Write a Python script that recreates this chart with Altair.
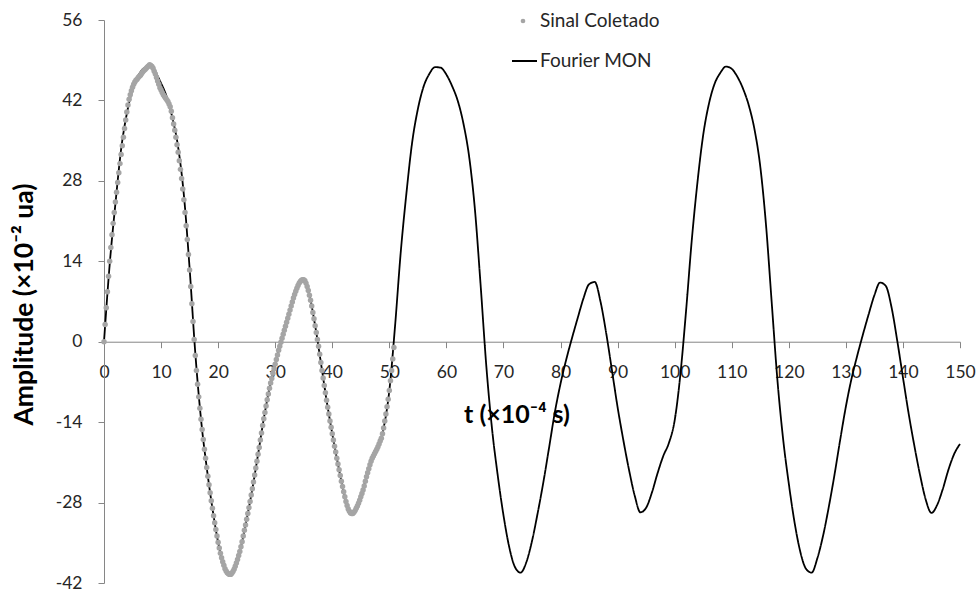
import altair as alt
import pandas as pd

# Collected signal, sampled every 0.2 (x10^-4 s) starting at t = 0
sinal_dt = 0.2
sinal_amp = [
    0.0, 3.0, 5.9, 8.7, 11.4, 14.0, 16.4, 18.6, 20.6, 22.5,
    24.3, 26.0, 27.7, 29.4, 31.0, 32.6, 34.1, 35.6, 37.1, 38.6,
    40.0, 41.2, 42.2, 43.0, 43.7, 44.3, 44.8, 45.2, 45.5, 45.7,
    46.0, 46.2, 46.4, 46.7, 47.0, 47.2, 47.4, 47.6, 47.8, 48.0,
    48.2, 48.1, 47.9, 47.6, 47.1, 46.6, 46.0, 45.4, 44.8, 44.2,
    43.8, 43.4, 43.0, 42.7, 42.4, 42.1, 41.8, 41.4, 40.9, 40.1,
    39.0, 37.9, 36.8, 35.6, 34.3, 33.0, 31.5, 30.0, 28.4, 26.6,
    24.7, 22.5, 20.2, 17.8, 15.2, 12.5, 9.6, 6.6, 3.5, 0.4,
    -2.4, -5.0, -7.4, -9.6, -11.6, -13.5, -15.3, -17.0, -18.7, -20.3,
    -21.9, -23.4, -24.9, -26.3, -27.7, -29.0, -30.3, -31.5, -32.7, -33.8,
    -34.9, -35.9, -36.8, -37.6, -38.3, -38.9, -39.5, -39.9, -40.2, -40.4,
    -40.5, -40.5, -40.3, -40.0, -39.6, -39.1, -38.5, -37.9, -37.2, -36.5,
    -35.7, -34.8, -33.8, -32.8, -31.9, -30.9, -29.9, -28.9, -27.8, -26.7,
    -25.6, -24.4, -23.2, -22.0, -20.8, -19.6, -18.4, -17.1, -15.9, -14.6,
    -13.4, -12.3, -11.2, -10.1, -9.1, -8.1, -7.2, -6.4, -5.5, -4.7,
    -3.9, -3.1, -2.3, -1.5, -0.8, -0.1, 0.6, 1.3, 2.0, 2.7,
    3.4, 4.1, 4.8, 5.5, 6.2, 6.9, 7.6, 8.2, 8.8, 9.3,
    9.8, 10.2, 10.5, 10.7, 10.8, 10.8, 10.6, 10.2, 9.6, 8.9,
    8.1, 7.2, 6.2, 5.1, 4.0, 2.8, 1.6, 0.4, -0.8, -2.2,
    -3.6, -5.0, -6.3, -7.6, -8.9, -10.2, -11.4, -12.6, -13.8, -14.9,
    -16.0, -17.1, -18.2, -19.2, -20.3, -21.3, -22.3, -23.3, -24.3, -25.2,
    -26.1, -27.0, -27.8, -28.5, -29.1, -29.5, -29.8, -29.9, -29.9, -29.7,
    -29.4, -29.0, -28.6, -28.1, -27.6, -27.0, -26.4, -25.8, -25.1, -24.3,
    -23.5, -22.8, -22.1, -21.4, -20.8, -20.3, -19.9, -19.5, -19.1, -18.7,
    -18.3, -17.8, -17.3, -16.8, -16.0, -15.0, -13.8, -12.6, -11.3, -10.0,
    -8.5, -6.8, -5.0, -3.0, -1.0,
]

# Fourier reconstruction (MON), one value per unit of t from 0 to 150
fourier_amp = [
    0.0, 13.5, 24.0, 33.5, 39.7, 43.9, 46.3, 47.6, 47.9, 46.9,
    45.0, 42.6, 38.9, 33.8, 25.5, 12.8, -2.0, -13.5, -21.9, -29.0,
    -34.9, -38.9, -40.5, -39.1, -35.7, -30.9, -25.6, -19.6, -13.4, -8.1,
    -3.9, -0.1, 3.4, 6.9, 9.8, 10.8, 8.1, 2.8, -3.6, -10.2,
    -16.0, -21.3, -26.1, -29.5, -29.4, -27.0, -23.5, -20.3, -18.3, -15.0,
    -8.5, 2.7, 15.6, 25.9, 34.7, 40.5, 44.4, 46.6, 47.8, 47.7,
    46.5, 44.5, 41.9, 37.9, 32.1, 23.0, 9.8, -4.3, -15.2, -23.3,
    -30.2, -35.7, -39.2, -40.2, -38.4, -34.7, -29.8, -24.4, -18.4, -12.3,
    -7.3, -3.1, 0.6, 4.1, 7.5, 10.0, 10.4, 7.0, 1.5, -4.9,
    -11.4, -17.1, -22.3, -26.8, -29.7, -28.9, -26.3, -22.9, -19.9, -17.6,
    -13.7, -5.7, 5.4, 17.7, 27.8, 36.0, 41.4, 44.9, 46.8, 47.9,
    47.5, 46.1, 44.0, 41.1, 36.9, 30.5, 20.4, 6.9, -6.6, -16.9,
    -24.7, -31.4, -36.5, -39.5, -40.2, -37.7, -33.8, -28.8, -23.2, -17.1,
    -11.3, -6.4, -2.4, 1.3, 4.8, 8.1, 10.3, 9.7, 6.0, 0.2,
    -6.2, -12.5, -18.1, -23.2, -27.5, -29.8, -28.4, -25.6, -22.2, -19.5,
    -17.8,
]

series_names = ["Sinal Coletado", "Fourier MON"]
x_ticks = list(range(0, 151, 10))
y_ticks = [-42, -28, -14, 0, 14, 28, 42, 56]

sinal = pd.DataFrame({
    "t": [round(i * sinal_dt, 1) for i in range(len(sinal_amp))],
    "amp": sinal_amp,
    "serie": series_names[0],
})
fourier = pd.DataFrame({
    "t": list(range(len(fourier_amp))),
    "amp": fourier_amp,
    "serie": series_names[1],
})

W, H = 856, 563
AXIS_GRAY = "#868686"
TEXT = "#262626"
FONT = "Lato"

x_scale = alt.Scale(domain=[0, 150], nice=False, zero=False)
y_scale = alt.Scale(domain=[y_ticks[0], y_ticks[-1]], nice=False, zero=False)

# horizontal axis crosses the vertical one at amplitude 0
x_offset = -H * (0 - y_ticks[0]) / (y_ticks[-1] - y_ticks[0])

x_axis = alt.Axis(
    values=x_ticks, offset=x_offset, grid=False,
    domainColor=AXIS_GRAY, tickColor=AXIS_GRAY, tickSize=6,
    labelFont=FONT, labelFontSize=17.5, labelColor=TEXT, labelPadding=16,
    labelFlush=False, labelOverlap=False,
    title="t (×10⁻⁴ s)", titleFont=FONT, titleFontSize=25, titleFontWeight="bold",
    titleColor="#000000", titleX=412.5, titleY=73, titleAlign="center",
    titleBaseline="middle",
)
y_axis = alt.Axis(
    values=y_ticks, grid=False,
    domainColor=AXIS_GRAY, tickColor=AXIS_GRAY, tickSize=6,
    labelFont=FONT, labelFontSize=17.5, labelColor=TEXT, labelPadding=16,
    labelExpr="'' + datum.value", labelOverlap=False,
    title="Amplitude (×10⁻² ua)", titleFont=FONT, titleFontSize=26.5,
    titleFontWeight="bold", titleColor="#000000", titleAngle=270,
    titleX=-72, titleY=284, titleAlign="center", titleBaseline="alphabetic",
)

x_enc = alt.X("t:Q", scale=x_scale, axis=x_axis)
y_enc = alt.Y("amp:Q", scale=y_scale, axis=y_axis)

line = alt.Chart(fourier).mark_line(
    color="#000000", strokeWidth=1.8, interpolate="monotone"
).encode(
    x=x_enc,
    y=y_enc,
    strokeDash=alt.StrokeDash(
        "serie:N",
        scale=alt.Scale(domain=[series_names[1]], range=[[1, 0]]),
        legend=alt.Legend(
            title=None, orient="none", legendX=407, legendY=27.5, padding=0,
            symbolType="stroke", symbolSize=625, symbolStrokeWidth=2,
            symbolStrokeColor="#000000", labelFont=FONT, labelFontSize=19,
            labelColor=TEXT, labelOffset=2,
        ),
    ),
)

points = alt.Chart(sinal).mark_circle(size=30, opacity=1).encode(
    x=x_enc,
    y=y_enc,
    color=alt.Color(
        "serie:N",
        scale=alt.Scale(domain=[series_names[0]], range=["#a5a5a5"]),
        legend=alt.Legend(
            title=None, orient="none", legendX=409.5, legendY=-8.5, padding=0,
            symbolType="circle", symbolSize=22, symbolStrokeWidth=0,
            labelFont=FONT, labelFontSize=19, labelColor=TEXT, labelOffset=7.5,
        ),
    ),
)

chart = (
    alt.layer(line, points)
    .resolve_legend(color="independent", strokeDash="independent")
    .properties(
        width=W, height=H,
        padding={"left": 104, "top": 20, "right": 20, "bottom": 8},
        autosize=alt.AutoSizeParams(type="none"),
        background="#ffffff",
    )
    .configure_view(stroke=None)
)

chart.save("out.html", embed_options={"renderer": "svg", "actions": False})
